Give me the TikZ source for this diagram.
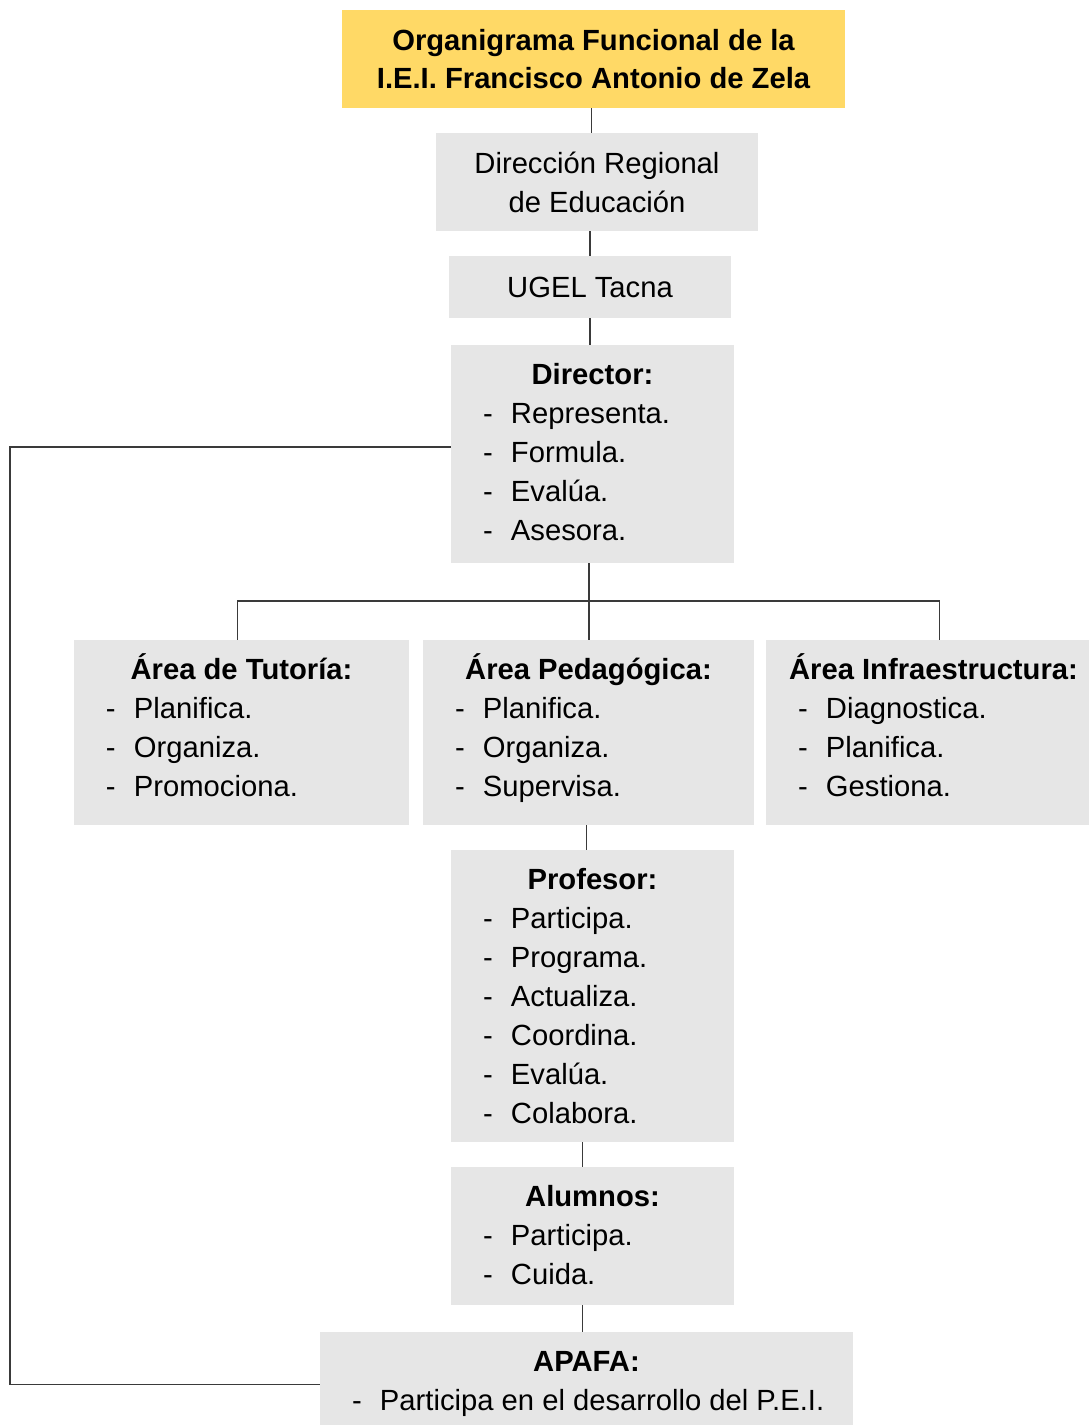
\documentclass[tikz,border=0pt]{standalone}
\usepackage{fontspec}
\setmainfont{Liberation Sans}
\usepackage{xcolor}
\usepackage{tikz}
\usetikzlibrary{calc, positioning}
\definecolor{zelaYellow}{HTML}{FFD966}
\definecolor{zelaGrey}{HTML}{E6E6E6}
\definecolor{zelaLine}{HTML}{3A3A3A}
\newcommand{\itm}[1]{\hspace*{16pt}\makebox[14pt][l]{-}#1\par}
\newcommand{\hd}[1]{\rule{0pt}{19.5pt}\textbf{#1}\par}

\tikzset{
    orgbox/.style={rectangle, fill=zelaGrey, inner sep=0pt, font=\fontsize{14.6}{19.5}\selectfont},
    link/.style={draw=zelaLine, line width=0.6pt}
}

\begin{document}
\begin{tikzpicture}[x=0.5pt, y=-0.5pt]
        \useasboundingbox (0,0) rectangle (1089,1425);

        % cabecera
        \node[orgbox, fill=zelaYellow, minimum width=251.5pt, minimum height=49pt, align=center,
              font=\fontsize{14.6}{19}\selectfont\bfseries] (title) at (593.5,59)
            {Organigrama Funcional de la\\I.E.I. Francisco Antonio de Zela};
        \node[orgbox, minimum width=161pt, minimum height=49pt, align=center] (dre) at (597,182)
            {Dirección Regional\\de Educación};
        \node[orgbox, minimum width=141pt, minimum height=31pt] (ugel) at (590,287) {UGEL Tacna};
        \node[orgbox, minimum width=141.5pt, minimum height=109pt] (dir) at (592.5,454) {
            \begin{minipage}[c][109pt][t]{141.5pt}
                \centering\hd{Director:}\raggedright
                \itm{Representa.}
                \itm{Formula.}
                \itm{Evalúa.}
                \itm{Asesora.}
            \end{minipage}
        };

        % areas
        \node[orgbox, minimum width=167.5pt, minimum height=92.5pt] (tut) at (241.5,732.5) {
            \begin{minipage}[c][92.5pt][t]{167.5pt}
                \centering\hd{Área de Tutoría:}\raggedright
                \itm{Planifica.}
                \itm{Organiza.}
                \itm{Promociona.}
            \end{minipage}
        };
        \node[orgbox, minimum width=165.5pt, minimum height=92.5pt] (ped) at (588.5,732.5) {
            \begin{minipage}[c][92.5pt][t]{165.5pt}
                \centering\hd{Área Pedagógica:}\raggedright
                \itm{Planifica.}
                \itm{Organiza.}
                \itm{Supervisa.}
            \end{minipage}
        };
        \node[orgbox, minimum width=161.5pt, minimum height=92.5pt] (inf) at (927.5,732.5) {
            \begin{minipage}[c][92.5pt][t]{161.5pt}
                \centering\hd{\hspace*{6pt}Área Infraestructura:}\raggedright
                \itm{Diagnostica.}
                \itm{Planifica.}
                \itm{Gestiona.}
            \end{minipage}
        };

        % profesor, alumnos, apafa
        \node[orgbox, minimum width=141.5pt, minimum height=146pt] (prof) at (592.5,996) {
            \begin{minipage}[c][146pt][t]{141.5pt}
                \centering\hd{Profesor:}\raggedright
                \itm{Participa.}
                \itm{Programa.}
                \itm{Actualiza.}
                \itm{Coordina.}
                \itm{Evalúa.}
                \itm{Colabora.}
            \end{minipage}
        };
        \node[orgbox, minimum width=141.5pt, minimum height=69pt] (alu) at (592.5,1236) {
            \begin{minipage}[c][69pt][t]{141.5pt}
                \centering\hd{Alumnos:}\raggedright
                \itm{Participa.}
                \itm{Cuida.}
            \end{minipage}
        };
        \node[orgbox, minimum width=266.5pt, minimum height=48.5pt] (apafa) at (586.5,1380.5) {
            \begin{minipage}[c][48.5pt][t]{266.5pt}
                \centering\hd{APAFA:}\raggedright
                \itm{Participa en el desarrollo del P.E.I.}
            \end{minipage}
        };

        % conexiones
        \coordinate (bus) at (589,601);
        \coordinate (rail) at (10,0);
        \draw[link] ([xshift=-1pt]title.south) -- ([xshift=-1pt]title.south |- dre.north);
        \draw[link] (dre.south -| ugel.north) -- (ugel.north);
        \draw[link] (ugel.south) -- (ugel.south |- dir.north);
        \draw[link] (dir.south -| bus) -- (bus) -- (bus |- ped.north);
        \draw[link] ([xshift=-2pt]tut.north) -- ([xshift=-2pt]tut.north |- bus)
            -- ([xshift=6pt]inf.north |- bus) -- ([xshift=6pt]inf.north);
        \draw[link] ([xshift=-1pt]ped.south) -- ([xshift=-1pt]ped.south |- prof.north);
        \draw[link] ([xshift=-5pt]prof.south) -- ([xshift=-5pt]alu.north);
        \draw[link] ([xshift=-5pt]alu.south) -- ([xshift=-5pt]alu.south |- apafa.north);
        \draw[link] ([yshift=3.5pt]dir.west) -- ([yshift=3.5pt]dir.west -| rail)
            -- ([yshift=-2pt]rail |- apafa.west) -- ([yshift=-2pt]apafa.west);
\end{tikzpicture}
\end{document}
